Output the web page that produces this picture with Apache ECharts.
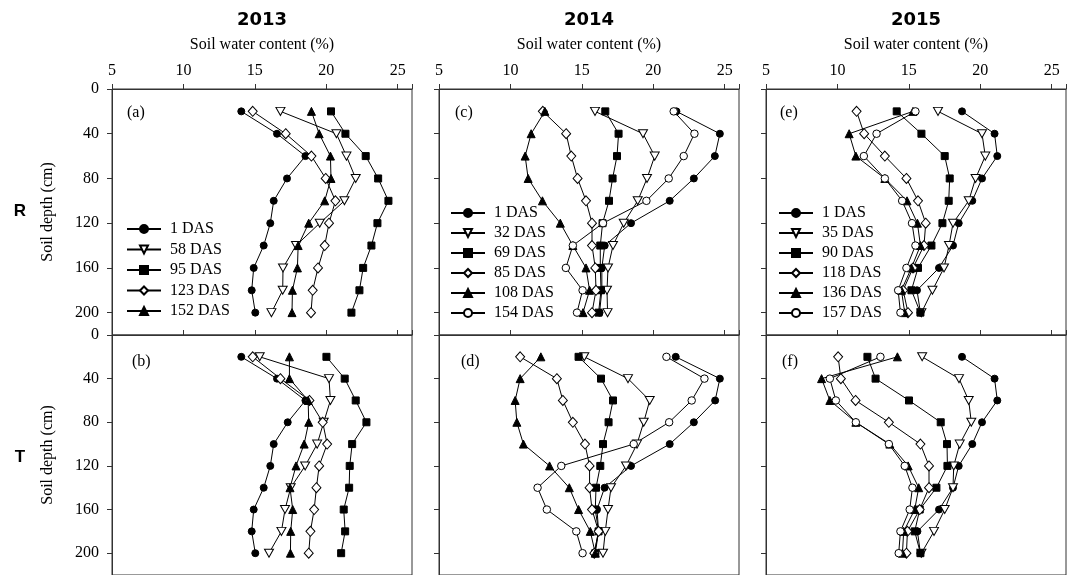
<!DOCTYPE html>
<html>
<head>
<meta charset="utf-8">
<script src="https://cdn.jsdelivr.net/npm/echarts@6/dist/echarts.min.js"></script>
<style>
  html, body { margin: 0; padding: 0; background: #fff; }
  #chart { width: 1072px; height: 575px; }
</style>
</head>
<body>
<div id="chart"></div>
<script>
// Soil depths sampled (cm)
const depth = [20, 40, 60, 80, 100, 120, 140, 160, 180, 200];

// Year titles and legend entries (days after sowing)
const years = ['2013', '2014', '2015'];
const labels2013 = ['1 DAS', '58 DAS', '95 DAS', '123 DAS', '152 DAS'];
const labels2014 = ['1 DAS', '32 DAS', '69 DAS', '85 DAS', '108 DAS', '154 DAS'];
const labels2015 = ['1 DAS', '35 DAS', '90 DAS', '118 DAS', '136 DAS', '157 DAS'];

// Axis ticks
const swcTicks = [5, 10, 15, 20, 25];
const depthTicks = [0, 40, 80, 120, 160, 200];

// Soil water content (%) by depth — 2013, R
const r13_1 = [14.05, 16.55, 18.54, 17.25, 16.32, 16.08, 15.62, 14.92, 14.78, 15.03];
const r13_58 = [16.79, 20.71, 21.41, 22.06, 21.27, 19.54, 17.88, 16.97, 16.95, 16.16];
const r13_95 = [20.33, 21.34, 22.76, 23.63, 24.35, 23.58, 23.16, 22.58, 22.32, 21.76];
const r13_123 = [14.85, 17.16, 18.96, 19.96, 20.64, 20.19, 19.89, 19.42, 19.05, 18.93];
const r13_152 = [18.96, 19.5, 20.29, 20.33, 19.89, 18.77, 18.03, 17.98, 17.63, 17.6];

// 2013, T
const t13_1 = [14.05, 16.55, 18.54, 17.3, 16.32, 16.08, 15.62, 14.92, 14.78, 15.03];
const t13_58 = [15.34, 20.19, 20.29, 19.82, 19.36, 18.52, 17.51, 17.11, 16.86, 15.99];
const t13_95 = [20.01, 21.29, 22.06, 22.81, 21.81, 21.64, 21.6, 21.22, 21.32, 21.04];
const t13_123 = [14.85, 16.79, 18.82, 19.75, 20.06, 19.5, 19.31, 19.15, 18.89, 18.77];
const t13_152 = [17.42, 17.42, 18.73, 18.77, 18.45, 17.88, 17.46, 17.65, 17.51, 17.49];

// 2014, R
const r14_1 = [21.62, 24.66, 24.31, 22.84, 21.15, 18.44, 16.6, 16.4, 16.4, 16.24];
const r14_32 = [15.92, 19.28, 20.1, 19.56, 18.91, 17.93, 17.18, 16.83, 16.76, 16.8];
const r14_69 = [16.64, 17.57, 17.46, 17.15, 16.9, 16.45, 16.29, 16.29, 16.34, 16.17];
const r14_85 = [12.27, 13.9, 14.26, 14.7, 15.29, 15.71, 15.71, 15.94, 15.99, 15.71];
const r14_108 = [12.41, 11.45, 11.03, 11.24, 12.24, 13.49, 14.37, 15.29, 15.54, 15.08];
const r14_154 = [21.43, 22.88, 22.13, 21.08, 19.52, 16.48, 14.37, 13.88, 15.05, 14.66];

// 2014, T
const t14_1 = [21.57, 24.66, 24.33, 22.84, 21.15, 18.44, 16.59, 16.06, 16.17, 15.87];
const t14_32 = [15.17, 18.23, 19.75, 19.33, 18.86, 18.09, 17.04, 16.83, 16.64, 16.48];
const t14_69 = [14.77, 16.34, 17.18, 16.87, 16.48, 16.29, 15.99, 15.94, 16.17, 15.94];
const t14_85 = [10.68, 13.25, 13.67, 14.37, 15.22, 15.54, 15.54, 15.71, 16.17, 15.87];
const t14_108 = [12.13, 10.68, 10.33, 10.45, 10.91, 12.74, 14.12, 14.77, 15.59, 15.94];
const t14_154 = [20.92, 23.58, 22.69, 21.11, 18.63, 13.56, 11.9, 12.55, 14.61, 15.05];

// 2015, R
const r15_1 = [18.72, 21.0, 21.19, 20.12, 19.44, 18.49, 18.09, 17.11, 15.57, 15.81];
const r15_35 = [17.04, 20.12, 20.35, 19.67, 19.19, 18.09, 17.81, 17.46, 16.65, 15.88];
const r15_90 = [14.15, 15.88, 17.51, 17.86, 17.79, 17.35, 16.58, 15.64, 15.18, 15.81];
const r15_118 = [11.34, 11.87, 13.32, 14.83, 15.64, 16.18, 16.06, 15.29, 14.6, 14.94];
const r15_136 = [15.29, 10.82, 11.29, 13.32, 14.87, 15.6, 15.81, 15.18, 14.48, 14.71];
const r15_157 = [15.46, 12.74, 11.85, 13.32, 14.53, 15.22, 15.46, 14.83, 14.25, 14.41];

// 2015, T
const t15_1 = [18.72, 21.0, 21.19, 20.12, 19.44, 18.49, 18.09, 17.11, 15.6, 15.81];
const t15_35 = [15.93, 18.51, 19.19, 19.37, 18.56, 18.14, 18.09, 17.51, 16.76, 15.88];
const t15_90 = [12.1, 12.67, 15.01, 17.23, 17.67, 17.7, 16.93, 15.76, 15.41, 15.81];
const t15_118 = [10.05, 10.24, 11.27, 13.6, 15.81, 16.41, 16.41, 15.76, 14.9, 14.83];
const t15_136 = [14.2, 8.89, 9.47, 11.29, 13.67, 14.95, 15.69, 15.41, 14.64, 14.55];
const t15_157 = [13.01, 9.47, 9.89, 11.29, 13.6, 14.71, 15.25, 15.06, 14.41, 14.29];

// Marker styles, in legend order
const markers = [
  { symbol: 'circle', size: 7, fill: '#000' },
  { symbol: 'path://M0,0L2,0L1,1.75Z', size: [9, 8], fill: '#fff' },
  { symbol: 'rect', size: 7, fill: '#000' },
  { symbol: 'diamond', size: [9, 10], fill: '#fff' },
  { symbol: 'triangle', size: [8, 8], fill: '#000' },
  { symbol: 'circle', size: 7.5, fill: '#fff' }
];

// Panels: a,c,e on the top row (R), b,d,f on the bottom row (T)
const panels = [
  { tag: '(a)', row: 0, col: 0, labels: labels2013, values: [r13_1, r13_58, r13_95, r13_123, r13_152], tagPos: [127, 113] },
  { tag: '(c)', row: 0, col: 1, labels: labels2014, values: [r14_1, r14_32, r14_69, r14_85, r14_108, r14_154], tagPos: [455, 113] },
  { tag: '(e)', row: 0, col: 2, labels: labels2015, values: [r15_1, r15_35, r15_90, r15_118, r15_136, r15_157], tagPos: [780, 113] },
  { tag: '(b)', row: 1, col: 0, labels: labels2013, values: [t13_1, t13_58, t13_95, t13_123, t13_152], tagPos: [132, 362] },
  { tag: '(d)', row: 1, col: 1, labels: labels2014, values: [t14_1, t14_32, t14_69, t14_85, t14_108, t14_154], tagPos: [461, 362] },
  { tag: '(f)', row: 1, col: 2, labels: labels2015, values: [t15_1, t15_35, t15_90, t15_118, t15_136, t15_157], tagPos: [782, 362] }
];

const SERIF = "'Liberation Serif', 'Times New Roman', serif";
const SANS = "'DejaVu Sans', 'Liberation Sans', sans-serif";
const AXIS_COLOR = '#333';

const colLeft = [112, 439, 766];
const colWidth = 300;
const rowTop = [89, 335];
const rowHeight = [246, 244];

const grid = [], xAxis = [], yAxis = [], series = [], graphic = [];

panels.forEach((p, i) => {
  grid.push({
    left: colLeft[p.col], top: rowTop[p.row], width: colWidth, height: rowHeight[p.row],
    show: true, borderColor: AXIS_COLOR, borderWidth: 1, backgroundColor: 'transparent'
  });
  xAxis.push({
    gridIndex: i, type: 'value', position: 'top',
    min: swcTicks[0], max: 26, interval: 5,
    axisLine: { show: true, lineStyle: { color: AXIS_COLOR, width: 1 } },
    axisTick: { show: true, inside: false, length: 5, lineStyle: { color: AXIS_COLOR } },
    axisLabel: {
      show: p.row === 0, margin: 10, color: '#000', fontFamily: SERIF, fontSize: 16,
      formatter: v => (swcTicks.indexOf(v) >= 0 ? String(v) : '')
    },
    splitLine: { show: false },
    name: p.row === 0 ? 'Soil water content (%)' : '',
    nameLocation: 'middle', nameGap: 36,
    nameTextStyle: { color: '#000', fontFamily: SERIF, fontSize: 16 }
  });
  yAxis.push({
    gridIndex: i, type: 'value', inverse: true,
    min: 0, max: 220, interval: 40,
    axisLine: { show: true, lineStyle: { color: AXIS_COLOR, width: 1 } },
    axisTick: { show: true, inside: false, length: 5, lineStyle: { color: AXIS_COLOR } },
    axisLabel: {
      show: p.col === 0, margin: 13, color: '#000', fontFamily: SERIF, fontSize: 16,
      formatter: v => (depthTicks.indexOf(v) >= 0 ? String(v) : '')
    },
    splitLine: { show: false },
    name: p.col === 0 ? 'Soil depth (cm)' : '',
    nameLocation: 'middle', nameGap: 56,
    nameTextStyle: { color: '#000', fontFamily: SERIF, fontSize: 16 }
  });
  p.values.forEach((vals, k) => {
    const m = markers[k];
    series.push({
      type: 'line', name: p.labels[k], xAxisIndex: i, yAxisIndex: i,
      data: vals.map((v, j) => [v, depth[j]]),
      symbol: m.symbol, symbolSize: m.size, showAllSymbol: true,
      lineStyle: { color: '#000', width: 1 },
      itemStyle: { color: m.fill, borderColor: '#000', borderWidth: 1 },
      emphasis: { disabled: true },
      animation: false
    });
  });
  graphic.push({
    type: 'text', x: p.tagPos[0], y: p.tagPos[1],
    style: { text: p.tag, font: '16px ' + SERIF, fill: '#000', textVerticalAlign: 'middle' }
  });
});

// Year headers above each column
years.forEach((y, c) => {
  graphic.push({
    type: 'text', x: colLeft[c] + colWidth / 2, y: 20,
    style: { text: y, font: 'bold 18px ' + SANS, fill: '#000', textAlign: 'center', textVerticalAlign: 'middle' }
  });
});

// Row labels
[['R', 211], ['T', 457]].forEach(([t, y]) => {
  graphic.push({
    type: 'text', x: 20, y: y,
    style: { text: t, font: "bold 17px 'Liberation Sans', sans-serif", fill: '#000', textAlign: 'center', textVerticalAlign: 'middle' }
  });
});

// One legend per top-row panel
const legendBase = {
  orient: 'vertical', padding: 0, itemWidth: 34, itemHeight: 10,
  selectedMode: false,
  textStyle: { color: '#000', fontFamily: SERIF, fontSize: 16, lineHeight: 16, padding: [0, 0, 0, 4] }
};
const legend = [
  Object.assign({}, legendBase, { left: 126, top: 221, itemGap: 4.5, data: labels2013 }),
  Object.assign({}, legendBase, { left: 450, top: 205, itemGap: 4, data: labels2014 }),
  Object.assign({}, legendBase, { left: 778, top: 205, itemGap: 4, data: labels2015 })
];

const chart = echarts.init(document.getElementById('chart'), null, { renderer: 'canvas' });
chart.setOption({
  animation: false,
  backgroundColor: '#fff',
  grid, xAxis, yAxis, series, legend, graphic
});
</script>
</body>
</html>
